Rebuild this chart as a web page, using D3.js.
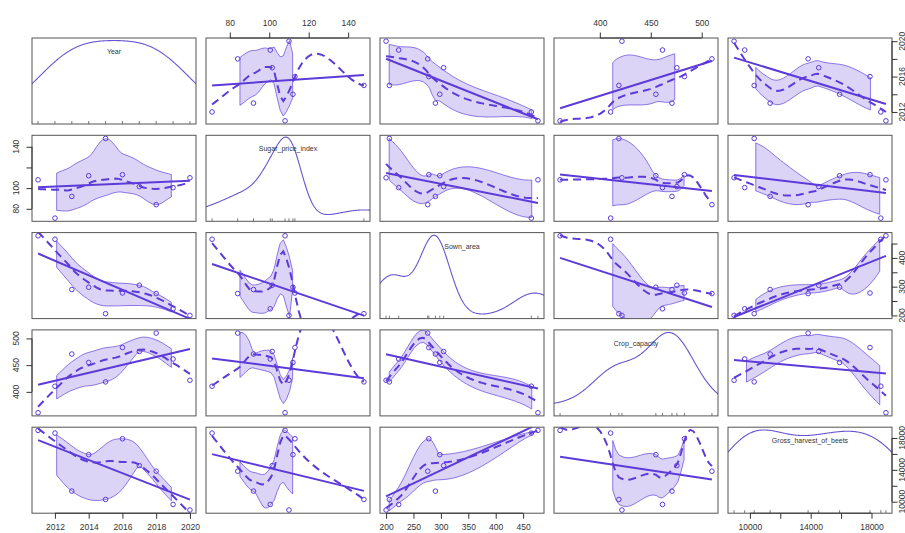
<!DOCTYPE html>
<html><head><meta charset="utf-8">
<script src="https://cdn.jsdelivr.net/npm/d3@7"></script>
<style>body{margin:0;background:#fff} svg{display:block;font-family:"Liberation Sans",Arial,sans-serif}</style>
</head><body><svg id="c" width="905" height="533"></svg>
<script>
// ---------------- data ----------------
const varNames = ["Year","Sugar_price_index","Sown_area","Crop_capacity","Gross_harvest_of_beets"];
const year            = [2011,2012,2013,2014,2015,2016,2017,2018,2019,2020];
const sugarPriceIndex = [108,71,92,112,148,113,101.5,84,100.5,110];
const sownArea        = [477,465,290,298,206,278,305,276,223,200];
const cropCapacity    = [361,410.6,470.8,455,418.7,483,475.6,510,461.5,421.7];
const grossHarvest    = [18950,18613,11332,15903,10283,17901,14529,13830,9658,8959];
const yearTicks  = [2012,2014,2016,2018,2020];
const sugarTicks = [80,100,120,140];
const sownTicks  = [200,250,300,350,400,450];
const cropTicks  = [400,450,500];
const grossTicks = [10000,12000,14000,16000,18000];

const vars  = [year, sugarPriceIndex, sownArea, cropCapacity, grossHarvest];
const ticks = [yearTicks, sugarTicks, sownTicks, cropTicks, grossTicks];

// ---------------- layout ----------------
const P = 5, left0 = 32, stepX = 174, pw = 164, top0 = 38, stepY = 97.3, ph = 86;
const col = "#5c3bd9", dens = "#6a55d0", frame = "#555";
const fs = 8.5;
const smoothIterations = 4;

const svg = d3.select("#c");
const defs = svg.append("defs");

function pad(v){ const e = d3.extent(v), r = e[1]-e[0]; return [e[0]-0.04*r, e[1]+0.04*r]; }
const xs = vars.map((v,j)=>d3.scaleLinear().domain(pad(v)).range([left0+j*stepX, left0+j*stepX+pw]));
const ys = vars.map((v,i)=>d3.scaleLinear().domain(pad(v)).range([top0+i*stepY+ph, top0+i*stepY]));

// ---------------- loess (kd-tree vertices + Hermite interpolation) ----------------
function lowesw(res){
  const n = res.length, a = res.map(Math.abs), s = a.slice().sort((p,q)=>p-q);
  const nh = Math.floor(n/2)+1;
  const cmad = (n-nh+1 < nh) ? 3*(s[nh-1]+s[nh-2]) : 6*s[nh-1];
  if (cmad < 1e-300) return a.map(()=>1);
  return a.map(r => r > 0.999*cmad ? 0 : (r > 0.001*cmad ? Math.pow(1-(r/cmad)*(r/cmad),2) : 1));
}
function loess(xin, yin, span, degree, iterations){
  const n = xin.length;
  const idx = d3.range(n).sort((a,b)=>xin[a]-xin[b]);
  const x = idx.map(i=>xin[i]), y = idx.map(i=>yin[i]);
  const nf = Math.min(n, Math.floor(n*span+1e-5));
  if (nf < 1) return null;
  const fc = Math.floor(n*span*0.2);
  let lo = x[0], hi = x[n-1];
  const mu = 0.005*Math.max(hi-lo, 1e-10*Math.max(Math.abs(lo),Math.abs(hi))+1e-30);
  lo -= mu; hi += mu;
  const verts = [lo, hi];
  let guard = 0;
  (function split(l,u,vlo,vhi){
    if (++guard > 400) return;
    if (u-l+1 <= fc || u < l) return;
    let m = Math.floor((l+u)/2), off = 0;
    while (m+off < u && m+off >= l){
      if (x[m+off] === x[m+off+1]) { off = -off; if (off >= 0) off++; }
      else { m = m+off; break; }
    }
    if (vlo === x[m] || vhi === x[m]) return;
    const s = x[m];
    verts.push(s);
    split(l,m,vlo,s); split(m+1,u,s,vhi);
  })(0,n-1,lo,hi);
  verts.sort((a,b)=>a-b);
  function localFit(q, rw){
    const d = x.map(v=>Math.abs(v-q));
    const ord = d3.range(n).sort((a,b)=>d[a]-d[b]);
    const h = d[ord[nf-1]]*Math.max(1,span);
    let sw=0,swx=0,swy=0,swxx=0,swxy=0;
    for (let k=0;k<nf;k++){
      const i = ord[k], r = h>0 ? d[i]/h : 0;
      let w = r<1 ? Math.pow(1-r*r*r,3) : 0; w *= rw[i];
      const dx = x[i]-q;
      sw+=w; swx+=w*dx; swy+=w*y[i]; swxx+=w*dx*dx; swxy+=w*dx*y[i];
    }
    if (sw <= 0) return [0,0];
    if (degree === 0) return [swy/sw, 0];
    const mx = swx/sw, my = swy/sw, sxx = swxx - sw*mx*mx, sxy = swxy - sw*mx*my;
    if (sxx <= 1e-12*(swxx+1e-30)) return [my,0];
    const b = sxy/sxx; return [my-b*mx, b];
  }
  let vv, vs;
  function interp(z){
    if (z < verts[0] || z > verts[verts.length-1]) return NaN;
    let j = d3.bisectRight(verts, z)-1;
    if (j >= verts.length-1) j = verts.length-2; if (j < 0) j = 0;
    const v0 = verts[j], v1 = verts[j+1], L = v1-v0, t = (z-v0)/L;
    const phi0=(1-t)*(1-t)*(1+2*t), phi1=t*t*(3-2*t), psi0=t*(1-t)*(1-t), psi1=t*t*(t-1);
    return phi0*vv[j]+phi1*vv[j+1]+(psi0*vs[j]+psi1*vs[j+1])*L;
  }
  let rw = new Array(n).fill(1), res;
  for (let it=1; it<=iterations; it++){
    const f = verts.map(v=>localFit(v,rw));
    vv = f.map(a=>a[0]); vs = f.map(a=>a[1]);
    res = y.map((v,i)=>v-interp(x[i]));
    if (it < iterations) rw = lowesw(res);
  }
  return {x, y, res, predict: interp};
}

// ---------------- adaptive kernel density (bw.nrd0 pilot) ----------------
function quantile7(s,p){ const h=(s.length-1)*p, l=Math.floor(h); return s[l]+(h-l)*((s[Math.min(l+1,s.length-1)])-s[l]); }
const dnorm = z => Math.exp(-0.5*z*z)/Math.sqrt(2*Math.PI);
function densityCurve(v){
  const n = v.length, s = v.slice().sort((a,b)=>a-b);
  const sd = d3.deviation(v), iqr = quantile7(s,0.75)-quantile7(s,0.25);
  const bw = 0.9*Math.min(sd, iqr/1.34)*Math.pow(n,-0.2);
  const pilot = v.map(t=>d3.mean(v, xi=>dnorm((t-xi)/bw))/bw);
  const gm = Math.exp(d3.mean(pilot, Math.log));
  const lam = pilot.map(p=>Math.pow(p/gm,-0.5));
  const g0 = s[0]-3*bw, g1 = s[n-1]+3*bw;
  const gx = d3.range(500).map(i=>g0+(g1-g0)*i/499);
  const gd = gx.map(t=>d3.mean(v, (xi,k)=>dnorm((t-xi)/(bw*lam[k]))/(bw*lam[k])));
  const mn = d3.min(gd), mx = d3.max(gd), r = s[n-1]-s[0];
  return gx.map((t,i)=>[t, s[0] + gd[i]*r/(mx-mn)]);
}

// ---------------- panels ----------------
for (let i=0;i<P;i++) for (let j=0;j<P;j++){
  const x0 = left0+j*stepX, y0 = top0+i*stepY;
  const id = `clip${i}${j}`;
  defs.append("clipPath").attr("id",id).append("rect").attr("x",x0).attr("y",y0).attr("width",pw).attr("height",ph);
  const g = svg.append("g");
  const gc = g.append("g").attr("clip-path",`url(#${id})`);
  const sx = xs[j], sy = ys[i];
  if (i === j){
    gc.append("path").datum(densityCurve(vars[j]))
      .attr("d", d3.line().x(d=>sx(d[0])).y(d=>sy(d[1])))
      .attr("fill","none").attr("stroke",dens).attr("stroke-width",1.1);
    gc.selectAll(".rug").data(vars[j]).join("line")
      .attr("x1",d=>sx(d)).attr("x2",d=>sx(d)).attr("y1",y0+ph).attr("y2",y0+ph-3)
      .attr("stroke","#444").attr("stroke-width",0.7);
    g.append("text").attr("x",x0+pw/2).attr("y",y0+16).attr("text-anchor","middle")
      .attr("font-size",7).attr("fill","#333").text(varNames[j]);
  } else {
    const xv = vars[j], yv = vars[i];
    const mx = d3.mean(xv), my = d3.mean(yv);
    const b = d3.sum(xv,(v,k)=>(v-mx)*(yv[k]-my))/d3.sum(xv,v=>(v-mx)**2), a = my-b*mx;
    const ex = d3.extent(xv);
    const fit = loess(xv, yv, 2/3, 1, smoothIterations);
    const xe = d3.range(50).map(k=>ex[0]+(ex[1]-ex[0])*k/49);
    const ye = xe.map(fit.predict);
    const px=[],pr=[],nx=[],nr=[];
    fit.res.forEach((r,k)=>{ if (r>0){px.push(fit.x[k]);pr.push(r*r);} else {nx.push(fit.x[k]);nr.push(r*r);} });
    const pf = px.length>=2 ? loess(px,pr,2/3,0,1) : null;
    const nfit = nx.length>=2 ? loess(nx,nr,2/3,0,1) : null;
    if (pf && nfit){
      const band = [];
      xe.forEach((t,k)=>{
        const up = pf.predict(t), dn = nfit.predict(t);
        if (!isNaN(up) && !isNaN(dn) && !isNaN(ye[k])) band.push([t, ye[k]+Math.sqrt(Math.max(0,up)), ye[k]-Math.sqrt(Math.max(0,dn))]);
      });
      if (band.length>1){
        const pts = band.map(d=>[sx(d[0]),sy(d[1])]).concat(band.slice().reverse().map(d=>[sx(d[0]),sy(d[2])]));
        gc.append("path").attr("d","M"+pts.map(p=>p.join(",")).join("L")+"Z")
          .attr("fill",col).attr("fill-opacity",0.22).attr("stroke",col).attr("stroke-opacity",0.75).attr("stroke-width",0.9);
      }
    }
    gc.selectAll(".pt").data(xv.map((v,k)=>[v,yv[k]])).join("circle")
      .attr("cx",d=>sx(d[0])).attr("cy",d=>sy(d[1])).attr("r",2.3)
      .attr("fill","none").attr("stroke",col).attr("stroke-width",1);
    gc.append("line").attr("x1",sx(ex[0])).attr("x2",sx(ex[1])).attr("y1",sy(a+b*ex[0])).attr("y2",sy(a+b*ex[1]))
      .attr("stroke",col).attr("stroke-width",2);
    gc.append("path").datum(xe.map((t,k)=>[t,ye[k]]).filter(d=>!isNaN(d[1])))
      .attr("d", d3.line().x(d=>sx(d[0])).y(d=>sy(d[1])))
      .attr("fill","none").attr("stroke",col).attr("stroke-width",2).attr("stroke-dasharray","8,5");
  }
  g.append("rect").attr("x",x0).attr("y",y0).attr("width",pw).attr("height",ph)
    .attr("fill","none").attr("stroke",frame).attr("stroke-width",1);
}

// ---------------- axes ----------------
function keepLabels(tv, scale, width){
  const gap = 0.833*fs, kept = new Set(); let last = null, lastW = 0;
  tv.forEach(t=>{
    const p = scale(t), w = width(t);
    if (last === null || Math.abs(p-last) >= w/2+lastW/2+gap){ kept.add(t); last = p; lastW = w; }
  });
  return kept;
}
const tw = t => String(t).length*0.556*fs;
function hAxis(j, side){
  const sc = xs[j], tv = ticks[j], kept = keepLabels(tv, sc, tw);
  const yA = side==="top" ? top0 : top0+4*stepY+ph;
  const g = svg.append("g").attr("transform",`translate(0,${yA})`);
  const ax = (side==="top"? d3.axisTop(sc) : d3.axisBottom(sc)).tickValues(tv).tickSize(5.5)
    .tickFormat(d=>kept.has(d)? String(d):"").tickPadding(side==="top"?7:5);
  g.call(ax);
  g.select(".domain").remove();
  g.append("line").attr("x1",sc(tv[0])).attr("x2",sc(tv[tv.length-1])).attr("stroke","#333");
  g.selectAll(".tick line").attr("stroke","#333");
  g.selectAll(".tick text").attr("font-size",fs).attr("fill","#333").attr("font-family","Liberation Sans, Arial, sans-serif");
}
function vAxis(i, side){
  const sc = ys[i], tv = ticks[i], kept = keepLabels(tv, sc, tw);
  const xA = side==="left" ? left0 : left0+4*stepX+pw;
  const g = svg.append("g").attr("transform",`translate(${xA},0)`);
  const ax = (side==="left"? d3.axisLeft(sc) : d3.axisRight(sc)).tickValues(tv).tickSize(5.5).tickFormat("");
  g.call(ax);
  g.select(".domain").remove();
  g.append("line").attr("y1",sc(tv[0])).attr("y2",sc(tv[tv.length-1])).attr("stroke","#333");
  g.selectAll(".tick line").attr("stroke","#333");
  const off = side==="left" ? -13 : 12.5;
  g.selectAll(".lab").data(tv.filter(t=>kept.has(t))).join("text")
    .attr("transform",d=>`translate(${off},${sc(d)}) rotate(-90)`)
    .attr("text-anchor","middle").attr("font-size",fs).attr("fill","#333").text(d=>String(d));
}
hAxis(0,"bottom"); hAxis(2,"bottom"); hAxis(4,"bottom");
hAxis(1,"top"); hAxis(3,"top");
vAxis(1,"left"); vAxis(3,"left");
vAxis(0,"right"); vAxis(2,"right"); vAxis(4,"right");
</script></body></html>
